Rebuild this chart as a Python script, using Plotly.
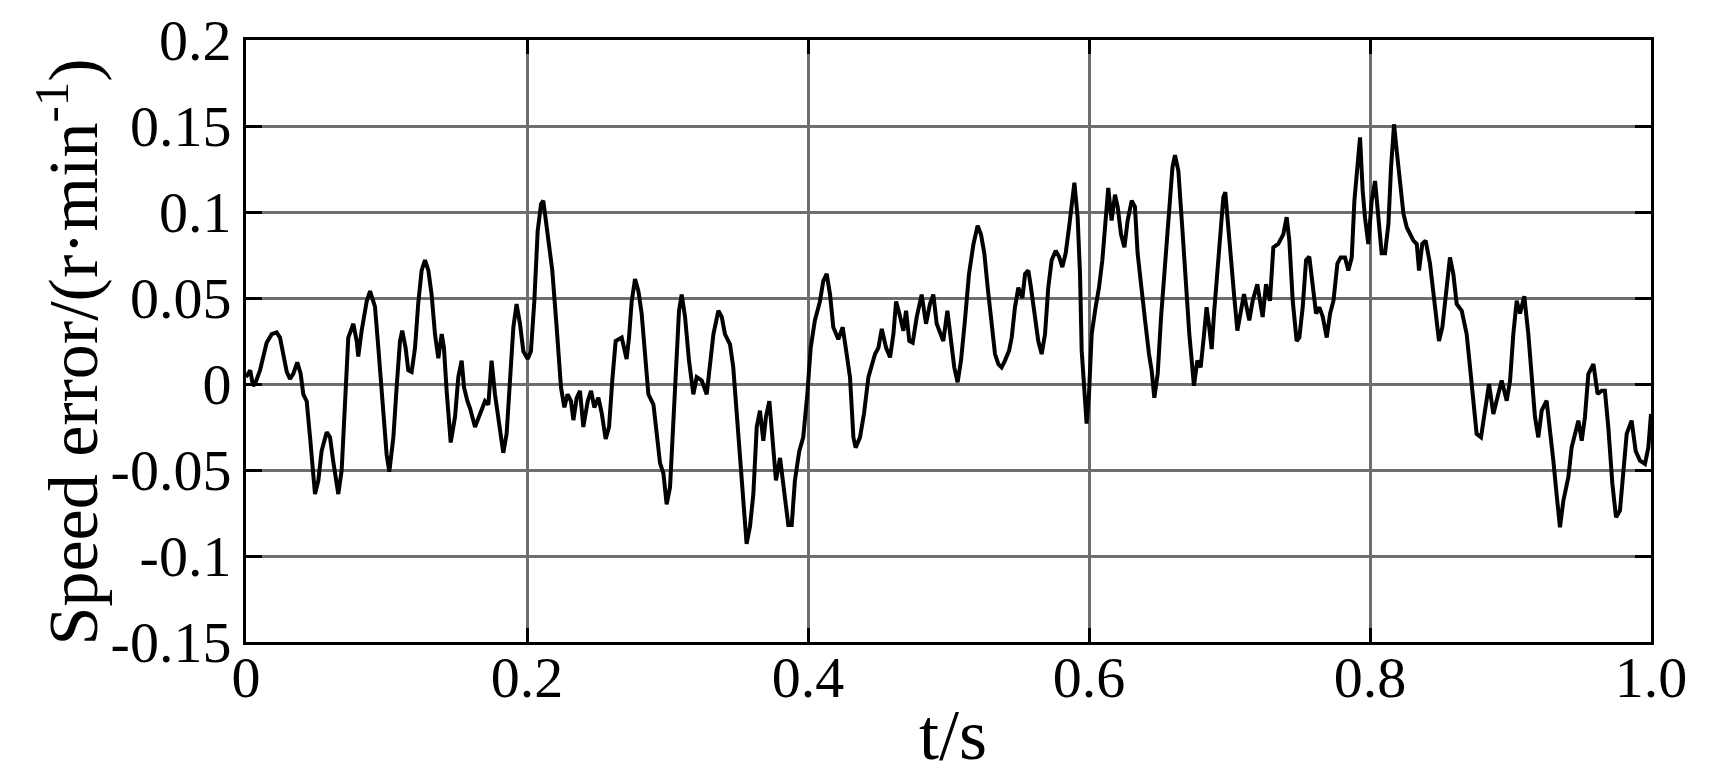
import plotly.graph_objects as go

# time (s) and speed error (r/min)
t_s = [
    0.0000, 0.0030, 0.0050, 0.0064, 0.0100, 0.0147, 0.0183, 0.0218, 0.0242, 0.0266,
    0.0290, 0.0313, 0.0337, 0.0365, 0.0389, 0.0408, 0.0432, 0.0456, 0.0474, 0.0491,
    0.0515, 0.0538, 0.0574, 0.0598, 0.0621, 0.0657, 0.0681, 0.0704, 0.0728, 0.0764,
    0.0788, 0.0799, 0.0823, 0.0859, 0.0883, 0.0906, 0.0918, 0.0942, 0.0966, 0.1001,
    0.1020, 0.1049, 0.1072, 0.1096, 0.1112, 0.1136, 0.1155, 0.1179, 0.1203, 0.1226,
    0.1250, 0.1274, 0.1298, 0.1321, 0.1345, 0.1369, 0.1393, 0.1409, 0.1428, 0.1457,
    0.1488, 0.1511, 0.1535, 0.1552, 0.1576, 0.1594,
    0.1630, 0.1665, 0.1701, 0.1725, 0.1748, 0.1772, 0.1801, 0.1831, 0.1855, 0.1879,
    0.1903, 0.1926, 0.1950, 0.1974, 0.2005, 0.2028, 0.2052, 0.2076, 0.2100, 0.2116,
    0.2133, 0.2152, 0.2180, 0.2211, 0.2242, 0.2266, 0.2289, 0.2313, 0.2330, 0.2354,
    0.2377, 0.2401, 0.2432, 0.2456, 0.2479, 0.2508, 0.2532, 0.2560, 0.2584, 0.2607,
    0.2631, 0.2674, 0.2709, 0.2726, 0.2745, 0.2769, 0.2793, 0.2816, 0.2840, 0.2864,
    0.2900, 0.2923, 0.2947, 0.2971, 0.2994, 0.3018, 0.3042, 0.3065, 0.3082, 0.3101,
    0.3125, 0.3153, 0.3184, 0.3208, 0.3244, 0.3279, 0.3303, 0.3327,
    0.3362, 0.3386, 0.3409, 0.3445, 0.3468, 0.3492, 0.3516, 0.3540, 0.3563, 0.3587,
    0.3611, 0.3635, 0.3658, 0.3682, 0.3701, 0.3725, 0.3749, 0.3772, 0.3801, 0.3829,
    0.3860, 0.3884, 0.3907, 0.3938, 0.3966, 0.3995, 0.4019, 0.4049, 0.4085, 0.4109,
    0.4133, 0.4157, 0.4180, 0.4216, 0.4247, 0.4275, 0.4299, 0.4323, 0.4339, 0.4370,
    0.4399, 0.4430, 0.4454, 0.4477, 0.4501, 0.4525, 0.4556, 0.4584, 0.4608, 0.4627,
    0.4650, 0.4679, 0.4698, 0.4721, 0.4745, 0.4774, 0.4809, 0.4840, 0.4868, 0.4892,
    0.4916, 0.4940, 0.4963, 0.4992,
    0.5018, 0.5041, 0.5065, 0.5089, 0.5117, 0.5146, 0.5177, 0.5207, 0.5231, 0.5255,
    0.5279, 0.5307, 0.5331, 0.5355, 0.5378, 0.5402, 0.5431, 0.5450, 0.5473, 0.5497,
    0.5526, 0.5545, 0.5568, 0.5587, 0.5611, 0.5639, 0.5663, 0.5687, 0.5710, 0.5734,
    0.5763, 0.5787, 0.5810, 0.5834, 0.5858, 0.5877, 0.5896, 0.5919, 0.5936, 0.5948,
    0.5967, 0.5983, 0.6000, 0.6019, 0.6047, 0.6071, 0.6095, 0.6114, 0.6137, 0.6161,
    0.6185, 0.6204, 0.6228, 0.6252, 0.6275, 0.6304, 0.6327, 0.6346, 0.6375, 0.6399,
    0.6427, 0.6446, 0.6465, 0.6489, 0.6513, 0.6541, 0.6570, 0.6594, 0.6612, 0.6636,
    0.6667, 0.6690, 0.6714, 0.6731, 0.6747, 0.6771, 0.6795, 0.6819, 0.6837, 0.6856,
    0.6873, 0.6890, 0.6913, 0.6937, 0.6956, 0.6970, 0.6987, 0.7004, 0.7032, 0.7056,
    0.7080, 0.7103, 0.7122, 0.7141, 0.7165, 0.7198, 0.7217, 0.7236, 0.7260, 0.7288,
    0.7312, 0.7347, 0.7383, 0.7407, 0.7426, 0.7450, 0.7478, 0.7497, 0.7521, 0.7545,
    0.7568, 0.7592, 0.7616, 0.7640, 0.7664, 0.7692, 0.7716, 0.7740, 0.7768, 0.7791,
    0.7822, 0.7846, 0.7870, 0.7889, 0.7910, 0.7929, 0.7948, 0.7964, 0.7988, 0.8012,
    0.8036, 0.8060, 0.8083, 0.8107, 0.8131, 0.8150, 0.8171, 0.8190, 0.8214, 0.8238,
    0.8262, 0.8285, 0.8309, 0.8333,
    0.8349, 0.8372, 0.8396, 0.8427, 0.8451, 0.8474, 0.8491, 0.8515, 0.8539, 0.8569,
    0.8593, 0.8617, 0.8653, 0.8688, 0.8712, 0.8737, 0.8759, 0.8790, 0.8819, 0.8847,
    0.8878, 0.8909, 0.8937, 0.8973, 0.8997, 0.9020, 0.9044, 0.9068, 0.9098, 0.9127,
    0.9150, 0.9174, 0.9198, 0.9222, 0.9257, 0.9281, 0.9305, 0.9328, 0.9352, 0.9376,
    0.9412, 0.9435, 0.9459, 0.9483, 0.9507, 0.9530, 0.9554, 0.9590, 0.9620, 0.9649,
    0.9672, 0.9696, 0.9725, 0.9751, 0.9779, 0.9803, 0.9827, 0.9862, 0.9891, 0.9922,
    0.9957, 0.9981, 1.0000,
]

speed_err = [
    0.004, 0.008, -0.001, 0.000, 0.008, 0.024, 0.029, 0.030, 0.027, 0.017,
    0.007, 0.003, 0.006, 0.0126, 0.006, -0.006, -0.010, -0.031, -0.052, -0.064,
    -0.056, -0.039, -0.028, -0.031, -0.045, -0.064, -0.050, -0.006, 0.027, 0.035,
    0.025, 0.016, 0.031, 0.048, 0.054, 0.048, 0.045, 0.021, -0.006, -0.041,
    -0.051, -0.031, -0.002, 0.025, 0.031, 0.021, 0.008, 0.007, 0.021, 0.047,
    0.066, 0.072, 0.066, 0.052, 0.029, 0.015, 0.029, 0.021, -0.004, -0.034,
    -0.019, 0.004, 0.0136, -0.002, -0.010, -0.014,
    -0.025, -0.017, -0.010, -0.012, 0.0136, -0.006, -0.023, -0.040, -0.029, 0.006,
    0.033, 0.0465, 0.035, 0.019, 0.0145, 0.019, 0.048, 0.089, 0.1047, 0.1066,
    0.095, 0.085, 0.066, 0.033, -0.002, -0.0136, -0.006, -0.010, -0.021, -0.008,
    -0.004, -0.025, -0.010, -0.004, -0.0136, -0.008, -0.017, -0.032, -0.025, 0.002,
    0.025, 0.027, 0.0145, 0.027, 0.048, 0.061, 0.054, 0.041, 0.019, -0.006,
    -0.012, -0.031, -0.046, -0.052, -0.070, -0.060, -0.021, 0.019, 0.0426, 0.052,
    0.039, 0.0136, -0.006, 0.004, 0.002, -0.006, 0.0097, 0.029,
    0.0426, 0.039, 0.029, 0.023, 0.0097, -0.017, -0.041, -0.068, -0.093, -0.083,
    -0.064, -0.025, -0.0155, -0.033, -0.019, -0.010, -0.031, -0.056, -0.043, -0.064,
    -0.082, -0.082, -0.056, -0.039, -0.031, -0.006, 0.021, 0.037, 0.048, 0.060,
    0.064, 0.052, 0.033, 0.026, 0.033, 0.0174, 0.004, -0.031, -0.037, -0.031,
    -0.017, 0.004, 0.0116, 0.0174, 0.021, 0.032, 0.021, 0.0155, 0.029, 0.048,
    0.041, 0.031, 0.0426, 0.025, 0.024, 0.039, 0.052, 0.035, 0.0465, 0.052,
    0.035, 0.029, 0.025, 0.0426,
    0.025, 0.0097, 0.001, 0.0136, 0.037, 0.064, 0.081, 0.092, 0.087, 0.076,
    0.056, 0.037, 0.0174, 0.0116, 0.0097, 0.0136, 0.0194, 0.027, 0.0446, 0.056,
    0.050, 0.064, 0.066, 0.056, 0.041, 0.025, 0.0174, 0.029, 0.056, 0.072,
    0.0775, 0.074, 0.068, 0.076, 0.091, 0.103, 0.117, 0.097, 0.064, 0.0194,
    -0.006, -0.023, -0.006, 0.029, 0.0446, 0.056, 0.072, 0.091, 0.114, 0.095,
    0.110, 0.103, 0.087, 0.0795, 0.095, 0.1066, 0.103, 0.076, 0.0523, 0.037,
    0.0174, 0.0078, -0.008, 0.006, 0.039, 0.068, 0.101, 0.126, 0.133, 0.124,
    0.087, 0.056, 0.029, 0.0136, -0.001, 0.0136, 0.0097, 0.029, 0.0446, 0.033,
    0.0203, 0.041, 0.064, 0.087, 0.1085, 0.1115, 0.095, 0.074, 0.0523, 0.031,
    0.041, 0.0523, 0.0446, 0.037, 0.0484, 0.058, 0.0484, 0.039, 0.058, 0.0484,
    0.0795, 0.0814, 0.087, 0.097, 0.0834, 0.0484, 0.025, 0.027, 0.0446, 0.072,
    0.074, 0.056, 0.041, 0.0446, 0.039, 0.027, 0.041, 0.0484, 0.070, 0.0736,
    0.0736, 0.066, 0.0736, 0.1066, 0.130, 0.1434, 0.1124, 0.097, 0.0814, 0.1066,
    0.118, 0.095, 0.076, 0.076, 0.093, 0.126, 0.151, 0.1357, 0.1143, 0.099,
    0.091, 0.087, 0.0834, 0.0814,
    0.066, 0.0814, 0.0834, 0.070, 0.0523, 0.033, 0.025, 0.033, 0.0523, 0.0736,
    0.064, 0.0465, 0.0426, 0.029, 0.0097, -0.0097, -0.029, -0.031, -0.0136, 0.000,
    -0.0174, -0.006, 0.002, -0.0097, 0.002, 0.029, 0.0484, 0.041, 0.051, 0.029,
    0.0058, -0.019, -0.031, -0.0155, -0.0097, -0.025, -0.0446, -0.064, -0.0833, -0.068,
    -0.054, -0.037, -0.029, -0.0213, -0.033, -0.019, 0.0058, 0.0116, -0.0058, -0.0039,
    -0.0039, -0.025, -0.058, -0.0775, -0.0736, -0.048, -0.029, -0.0213, -0.039, -0.0446,
    -0.0465, -0.037, -0.0174,
]

x_ticks = [0, 0.2, 0.4, 0.6, 0.8, 1.0]
x_labels = ["0", "0.2", "0.4", "0.6", "0.8", "1.0"]
y_ticks = [-0.15, -0.1, -0.05, 0, 0.05, 0.1, 0.15, 0.2]
y_labels = ["-0.15", "-0.1", "-0.05", "0", "0.05", "0.1", "0.15", "0.2"]

font_family = "Liberation Serif, Times New Roman, serif"

fig = go.Figure(go.Scatter(
    x=t_s,
    y=speed_err,
    mode="lines",
    line=dict(color="black", width=4),
    showlegend=False,
))

axis_common = dict(
    showline=True,
    linecolor="black",
    linewidth=3,
    mirror="ticks",
    ticks="inside",
    tickcolor="black",
    tickwidth=2.5,
    showgrid=True,
    gridcolor="#6e6e6e",
    gridwidth=2.5,
    zeroline=False,
    automargin=False,
    tickfont=dict(family=font_family, size=58, color="black"),
)

fig.update_xaxes(
    range=[0, 1.0],
    tickvals=x_ticks,
    ticktext=x_labels,
    ticklen=14,
    ticklabelstandoff=-18,
    **axis_common
)
fig.update_yaxes(
    range=[-0.15, 0.2],
    tickvals=y_ticks,
    ticktext=y_labels,
    ticklen=16,
    **axis_common
)

fig.add_annotation(
    text="Speed error/(r·min<sup>-1</sup>)",
    xref="paper", yref="paper",
    x=-0.127, y=0.482,
    textangle=-90,
    showarrow=False,
    xanchor="center", yanchor="middle",
    font=dict(family=font_family, size=70, color="black"),
)
fig.add_annotation(
    text="t/s",
    xref="paper", yref="paper",
    x=0.503, y=-0.155,
    showarrow=False,
    xanchor="center", yanchor="middle",
    font=dict(family=font_family, size=72, color="black"),
)

# the page body adds 8 px, so the figure is 8 px smaller on each side
fig.update_layout(
    width=1701,
    height=773,
    margin=dict(l=238, r=58, t=32, b=139),
    plot_bgcolor="white",
    paper_bgcolor="white",
)

fig.write_html("out.html")
